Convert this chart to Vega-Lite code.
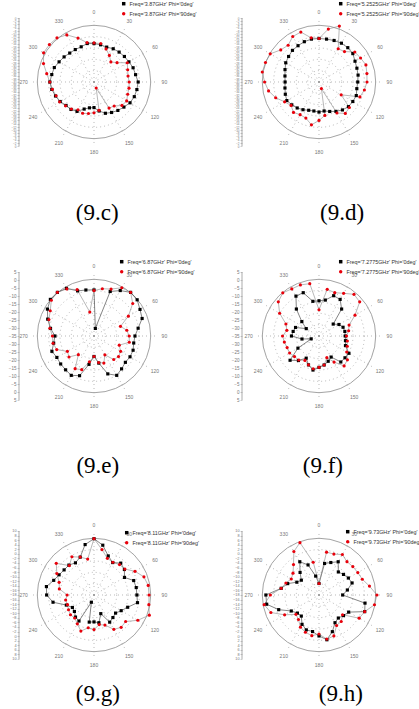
{
"$schema": "https://vega.github.io/schema/vega-lite/v6.json",
"padding": {"left": 8, "top": 0, "right": 0, "bottom": 0},
"background": "white",
"spacing": 0,
"resolve": {"scale": {"color": "independent", "shape": "independent"}, "legend": {"color": "independent", "shape": "independent"}},
"config": {
  "view": {"stroke": null},
  "axisY": {"domain": false, "grid": false, "labelColor": "#777", "tickColor": "#999", "tickWidth": 0.5, "tickSize": 2, "labelPadding": 1, "labelFont": "Liberation Sans", "labelOverlap": false, "labelBound": false, "labelFlush": false},
  "legend": {"orient": "none", "labelFontSize": 5.4, "labelFont": "Liberation Sans", "labelColor": "#333", "symbolSize": 12, "rowPadding": 3, "labelLimit": 300, "labelOffset": 3, "padding": 0, "symbolStrokeWidth": 0}
},
"datasets": {
  "rings": [{"r": 0.2}, {"r": 0.4}, {"r": 0.6}, {"r": 0.8}],
  "angles": [{"a":0,"t":"0"},{"a":30,"t":"30"},{"a":60,"t":"60"},{"a":90,"t":"90"},{"a":120,"t":"120"},{"a":150,"t":"150"},{"a":180,"t":"180"},{"a":210,"t":"210"},{"a":240,"t":"240"},{"a":270,"t":"270"},{"a":300,"t":"300"},{"a":330,"t":"330"}],
  "c": [
{"s":"0deg","a":0,"r":0.60},{"s":"0deg","a":10,"r":0.59},{"s":"0deg","a":20,"r":0.58},{"s":"0deg","a":30,"r":0.60},{"s":"0deg","a":40,"r":0.61},{"s":"0deg","a":50,"r":0.62},{"s":"0deg","a":60,"r":0.63},{"s":"0deg","a":70,"r":0.65},{"s":"0deg","a":80,"r":0.66},{"s":"0deg","a":90,"r":0.69},{"s":"0deg","a":100,"r":0.68},{"s":"0deg","a":110,"r":0.67},{"s":"0deg","a":120,"r":0.65},{"s":"0deg","a":130,"r":0.61},{"s":"0deg","a":140,"r":0.58},{"s":"0deg","a":150,"r":0.55},{"s":"0deg","a":160,"r":0.52},{"s":"0deg","a":170,"r":0.46},{"s":"0deg","a":180,"r":0.40},{"s":"0deg","a":190,"r":0.41},{"s":"0deg","a":200,"r":0.45},{"s":"0deg","a":210,"r":0.53},{"s":"0deg","a":220,"r":0.56},{"s":"0deg","a":230,"r":0.57},{"s":"0deg","a":240,"r":0.61},{"s":"0deg","a":250,"r":0.64},{"s":"0deg","a":260,"r":0.67},{"s":"0deg","a":270,"r":0.69},{"s":"0deg","a":280,"r":0.67},{"s":"0deg","a":290,"r":0.66},{"s":"0deg","a":300,"r":0.63},{"s":"0deg","a":310,"r":0.61},{"s":"0deg","a":320,"r":0.59},{"s":"0deg","a":330,"r":0.585},{"s":"0deg","a":340,"r":0.585},{"s":"0deg","a":350,"r":0.61},
{"s":"90deg","a":0,"r":0.61},{"s":"90deg","a":10,"r":0.61},{"s":"90deg","a":20,"r":0.55},{"s":"90deg","a":30,"r":0.48},{"s":"90deg","a":40,"r":0.41},{"s":"90deg","a":50,"r":0.47},{"s":"90deg","a":60,"r":0.60},{"s":"90deg","a":70,"r":0.56},{"s":"90deg","a":80,"r":0.54},{"s":"90deg","a":90,"r":0.55},{"s":"90deg","a":100,"r":0.555},{"s":"90deg","a":110,"r":0.56},{"s":"90deg","a":120,"r":0.59},{"s":"90deg","a":130,"r":0.57},{"s":"90deg","a":140,"r":0.49},{"s":"90deg","a":150,"r":0.47},{"s":"90deg","a":160,"r":0.10},{"s":"90deg","a":170,"r":0.45},{"s":"90deg","a":180,"r":0.48},{"s":"90deg","a":190,"r":0.50},{"s":"90deg","a":200,"r":0.52},{"s":"90deg","a":210,"r":0.50},{"s":"90deg","a":220,"r":0.55},{"s":"90deg","a":230,"r":0.58},{"s":"90deg","a":240,"r":0.62},{"s":"90deg","a":250,"r":0.63},{"s":"90deg","a":260,"r":0.66},{"s":"90deg","a":270,"r":0.69},{"s":"90deg","a":280,"r":0.75},{"s":"90deg","a":290,"r":0.84},{"s":"90deg","a":300,"r":0.91},{"s":"90deg","a":310,"r":0.91},{"s":"90deg","a":320,"r":0.90},{"s":"90deg","a":330,"r":0.85},{"s":"90deg","a":340,"r":0.73},{"s":"90deg","a":350,"r":0.625}
  ],
  "d": [
{"s":"0deg","a":0,"r":0.68},{"s":"0deg","a":10,"r":0.68},{"s":"0deg","a":20,"r":0.69},{"s":"0deg","a":30,"r":0.70},{"s":"0deg","a":40,"r":0.70},{"s":"0deg","a":50,"r":0.69},{"s":"0deg","a":60,"r":0.65},{"s":"0deg","a":70,"r":0.63},{"s":"0deg","a":80,"r":0.62},{"s":"0deg","a":90,"r":0.605},{"s":"0deg","a":100,"r":0.60},{"s":"0deg","a":110,"r":0.62},{"s":"0deg","a":120,"r":0.61},{"s":"0deg","a":130,"r":0.60},{"s":"0deg","a":140,"r":0.57},{"s":"0deg","a":150,"r":0.53},{"s":"0deg","a":160,"r":0.49},{"s":"0deg","a":170,"r":0.46},{"s":"0deg","a":180,"r":0.47},{"s":"0deg","a":190,"r":0.46},{"s":"0deg","a":200,"r":0.47},{"s":"0deg","a":210,"r":0.50},{"s":"0deg","a":220,"r":0.53},{"s":"0deg","a":230,"r":0.555},{"s":"0deg","a":240,"r":0.58},{"s":"0deg","a":250,"r":0.56},{"s":"0deg","a":260,"r":0.54},{"s":"0deg","a":270,"r":0.53},{"s":"0deg","a":280,"r":0.54},{"s":"0deg","a":290,"r":0.565},{"s":"0deg","a":300,"r":0.60},{"s":"0deg","a":310,"r":0.62},{"s":"0deg","a":320,"r":0.645},{"s":"0deg","a":330,"r":0.655},{"s":"0deg","a":340,"r":0.67},{"s":"0deg","a":350,"r":0.68},
{"s":"90deg","a":0,"r":0.68},{"s":"90deg","a":10,"r":0.84},{"s":"90deg","a":20,"r":0.93},{"s":"90deg","a":30,"r":0.60},{"s":"90deg","a":40,"r":0.62},{"s":"90deg","a":50,"r":0.73},{"s":"90deg","a":60,"r":0.75},{"s":"90deg","a":70,"r":0.78},{"s":"90deg","a":80,"r":0.76},{"s":"90deg","a":90,"r":0.75},{"s":"90deg","a":100,"r":0.72},{"s":"90deg","a":110,"r":0.68},{"s":"90deg","a":120,"r":0.40},{"s":"90deg","a":130,"r":0.62},{"s":"90deg","a":140,"r":0.64},{"s":"90deg","a":150,"r":0.56},{"s":"90deg","a":160,"r":0.11},{"s":"90deg","a":170,"r":0.53},{"s":"90deg","a":180,"r":0.60},{"s":"90deg","a":190,"r":0.68},{"s":"90deg","a":200,"r":0.60},{"s":"90deg","a":210,"r":0.59},{"s":"90deg","a":220,"r":0.62},{"s":"90deg","a":230,"r":0.57},{"s":"90deg","a":240,"r":0.62},{"s":"90deg","a":250,"r":0.72},{"s":"90deg","a":260,"r":0.80},{"s":"90deg","a":270,"r":0.85},{"s":"90deg","a":280,"r":0.90},{"s":"90deg","a":290,"r":0.89},{"s":"90deg","a":300,"r":0.88},{"s":"90deg","a":310,"r":0.78},{"s":"90deg","a":320,"r":0.75},{"s":"90deg","a":330,"r":0.82},{"s":"90deg","a":340,"r":0.83},{"s":"90deg","a":350,"r":0.70}
  ],
  "e": [
{"s":"0deg","a":0,"r":0.72},{"s":"0deg","a":10,"r":0.12},{"s":"0deg","a":20,"r":0.74},{"s":"0deg","a":30,"r":0.82},{"s":"0deg","a":40,"r":0.89},{"s":"0deg","a":50,"r":0.88},{"s":"0deg","a":60,"r":0.83},{"s":"0deg","a":70,"r":0.80},{"s":"0deg","a":80,"r":0.70},{"s":"0deg","a":90,"r":0.64},{"s":"0deg","a":100,"r":0.63},{"s":"0deg","a":110,"r":0.65},{"s":"0deg","a":120,"r":0.65},{"s":"0deg","a":130,"r":0.64},{"s":"0deg","a":140,"r":0.67},{"s":"0deg","a":150,"r":0.71},{"s":"0deg","a":160,"r":0.63},{"s":"0deg","a":170,"r":0.43},{"s":"0deg","a":180,"r":0.32},{"s":"0deg","a":190,"r":0.45},{"s":"0deg","a":200,"r":0.66},{"s":"0deg","a":210,"r":0.71},{"s":"0deg","a":220,"r":0.69},{"s":"0deg","a":230,"r":0.68},{"s":"0deg","a":240,"r":0.67},{"s":"0deg","a":250,"r":0.70},{"s":"0deg","a":260,"r":0.64},{"s":"0deg","a":270,"r":0.61},{"s":"0deg","a":280,"r":0.69},{"s":"0deg","a":290,"r":0.77},{"s":"0deg","a":300,"r":0.84},{"s":"0deg","a":310,"r":0.89},{"s":"0deg","a":320,"r":0.89},{"s":"0deg","a":330,"r":0.86},{"s":"0deg","a":340,"r":0.75},{"s":"0deg","a":350,"r":0.73},
{"s":"90deg","a":0,"r":0.71},{"s":"90deg","a":10,"r":0.75},{"s":"90deg","a":20,"r":0.78},{"s":"90deg","a":30,"r":0.87},{"s":"90deg","a":40,"r":0.89},{"s":"90deg","a":50,"r":0.79},{"s":"90deg","a":60,"r":0.62},{"s":"90deg","a":70,"r":0.44},{"s":"90deg","a":80,"r":0.52},{"s":"90deg","a":90,"r":0.55},{"s":"90deg","a":100,"r":0.56},{"s":"90deg","a":110,"r":0.42},{"s":"90deg","a":120,"r":0.48},{"s":"90deg","a":130,"r":0.50},{"s":"90deg","a":140,"r":0.48},{"s":"90deg","a":150,"r":0.34},{"s":"90deg","a":160,"r":0.45},{"s":"90deg","a":170,"r":0.42},{"s":"90deg","a":180,"r":0.32},{"s":"90deg","a":190,"r":0.41},{"s":"90deg","a":200,"r":0.56},{"s":"90deg","a":210,"r":0.59},{"s":"90deg","a":220,"r":0.38},{"s":"90deg","a":230,"r":0.51},{"s":"90deg","a":240,"r":0.48},{"s":"90deg","a":250,"r":0.62},{"s":"90deg","a":260,"r":0.65},{"s":"90deg","a":270,"r":0.65},{"s":"90deg","a":280,"r":0.70},{"s":"90deg","a":290,"r":0.75},{"s":"90deg","a":300,"r":0.79},{"s":"90deg","a":310,"r":0.87},{"s":"90deg","a":320,"r":0.89},{"s":"90deg","a":330,"r":0.85},{"s":"90deg","a":340,"r":0.77},{"s":"90deg","a":350,"r":0.38}
  ],
  "f": [
{"s":"0deg","a":0,"r":0.55},{"s":"0deg","a":10,"r":0.57},{"s":"0deg","a":20,"r":0.67},{"s":"0deg","a":30,"r":0.66},{"s":"0deg","a":40,"r":0.55},{"s":"0deg","a":50,"r":0.29},{"s":"0deg","a":60,"r":0.36},{"s":"0deg","a":70,"r":0.40},{"s":"0deg","a":80,"r":0.41},{"s":"0deg","a":90,"r":0.41},{"s":"0deg","a":100,"r":0.42},{"s":"0deg","a":110,"r":0.44},{"s":"0deg","a":120,"r":0.54},{"s":"0deg","a":130,"r":0.53},{"s":"0deg","a":140,"r":0.53},{"s":"0deg","a":150,"r":0.38},{"s":"0deg","a":160,"r":0.42},{"s":"0deg","a":170,"r":0.46},{"s":"0deg","a":180,"r":0.49},{"s":"0deg","a":190,"r":0.54},{"s":"0deg","a":200,"r":0.48},{"s":"0deg","a":210,"r":0.40},{"s":"0deg","a":220,"r":0.50},{"s":"0deg","a":230,"r":0.59},{"s":"0deg","a":240,"r":0.38},{"s":"0deg","a":250,"r":0.13},{"s":"0deg","a":260,"r":0.27},{"s":"0deg","a":270,"r":0.43},{"s":"0deg","a":280,"r":0.41},{"s":"0deg","a":290,"r":0.39},{"s":"0deg","a":300,"r":0.23},{"s":"0deg","a":310,"r":0.35},{"s":"0deg","a":320,"r":0.55},{"s":"0deg","a":330,"r":0.72},{"s":"0deg","a":340,"r":0.72},{"s":"0deg","a":350,"r":0.55},
{"s":"90deg","a":0,"r":0.41},{"s":"90deg","a":10,"r":0.74},{"s":"90deg","a":20,"r":0.72},{"s":"90deg","a":30,"r":0.77},{"s":"90deg","a":40,"r":0.85},{"s":"90deg","a":50,"r":0.83},{"s":"90deg","a":60,"r":0.65},{"s":"90deg","a":70,"r":0.50},{"s":"90deg","a":80,"r":0.47},{"s":"90deg","a":90,"r":0.43},{"s":"90deg","a":100,"r":0.45},{"s":"90deg","a":110,"r":0.47},{"s":"90deg","a":120,"r":0.50},{"s":"90deg","a":130,"r":0.58},{"s":"90deg","a":140,"r":0.61},{"s":"90deg","a":150,"r":0.47},{"s":"90deg","a":160,"r":0.36},{"s":"90deg","a":170,"r":0.46},{"s":"90deg","a":180,"r":0.49},{"s":"90deg","a":190,"r":0.52},{"s":"90deg","a":200,"r":0.48},{"s":"90deg","a":210,"r":0.44},{"s":"90deg","a":220,"r":0.49},{"s":"90deg","a":230,"r":0.50},{"s":"90deg","a":240,"r":0.53},{"s":"90deg","a":250,"r":0.53},{"s":"90deg","a":260,"r":0.55},{"s":"90deg","a":270,"r":0.57},{"s":"90deg","a":280,"r":0.51},{"s":"90deg","a":290,"r":0.55},{"s":"90deg","a":300,"r":0.71},{"s":"90deg","a":310,"r":0.83},{"s":"90deg","a":320,"r":0.88},{"s":"90deg","a":330,"r":0.85},{"s":"90deg","a":340,"r":0.85},{"s":"90deg","a":350,"r":0.83}
  ],
  "g": [
{"s":"0deg","a":0,"r":0.88},{"s":"0deg","a":10,"r":0.79},{"s":"0deg","a":20,"r":0.65},{"s":"0deg","a":30,"r":0.585},{"s":"0deg","a":40,"r":0.65},{"s":"0deg","a":50,"r":0.62},{"s":"0deg","a":60,"r":0.55},{"s":"0deg","a":70,"r":0.66},{"s":"0deg","a":80,"r":0.67},{"s":"0deg","a":90,"r":0.67},{"s":"0deg","a":100,"r":0.69},{"s":"0deg","a":110,"r":0.56},{"s":"0deg","a":120,"r":0.49},{"s":"0deg","a":130,"r":0.44},{"s":"0deg","a":140,"r":0.46},{"s":"0deg","a":150,"r":0.49},{"s":"0deg","a":160,"r":0.31},{"s":"0deg","a":170,"r":0.44},{"s":"0deg","a":180,"r":0.42},{"s":"0deg","a":190,"r":0.43},{"s":"0deg","a":200,"r":0.12},{"s":"0deg","a":210,"r":0.47},{"s":"0deg","a":220,"r":0.45},{"s":"0deg","a":230,"r":0.40},{"s":"0deg","a":240,"r":0.39},{"s":"0deg","a":250,"r":0.46},{"s":"0deg","a":260,"r":0.65},{"s":"0deg","a":270,"r":0.74},{"s":"0deg","a":280,"r":0.755},{"s":"0deg","a":290,"r":0.67},{"s":"0deg","a":300,"r":0.63},{"s":"0deg","a":310,"r":0.61},{"s":"0deg","a":320,"r":0.61},{"s":"0deg","a":330,"r":0.58},{"s":"0deg","a":340,"r":0.63},{"s":"0deg","a":350,"r":0.80},
{"s":"90deg","a":0,"r":0.88},{"s":"90deg","a":10,"r":0.72},{"s":"90deg","a":20,"r":0.61},{"s":"90deg","a":30,"r":0.59},{"s":"90deg","a":40,"r":0.62},{"s":"90deg","a":50,"r":0.63},{"s":"90deg","a":60,"r":0.74},{"s":"90deg","a":70,"r":0.83},{"s":"90deg","a":80,"r":0.86},{"s":"90deg","a":90,"r":0.86},{"s":"90deg","a":100,"r":0.87},{"s":"90deg","a":110,"r":0.92},{"s":"90deg","a":120,"r":0.79},{"s":"90deg","a":130,"r":0.645},{"s":"90deg","a":140,"r":0.66},{"s":"90deg","a":150,"r":0.62},{"s":"90deg","a":160,"r":0.50},{"s":"90deg","a":170,"r":0.47},{"s":"90deg","a":180,"r":0.54},{"s":"90deg","a":190,"r":0.52},{"s":"90deg","a":200,"r":0.60},{"s":"90deg","a":210,"r":0.52},{"s":"90deg","a":220,"r":0.47},{"s":"90deg","a":230,"r":0.48},{"s":"90deg","a":240,"r":0.46},{"s":"90deg","a":250,"r":0.44},{"s":"90deg","a":260,"r":0.45},{"s":"90deg","a":270,"r":0.42},{"s":"90deg","a":280,"r":0.55},{"s":"90deg","a":290,"r":0.58},{"s":"90deg","a":300,"r":0.67},{"s":"90deg","a":310,"r":0.77},{"s":"90deg","a":320,"r":0.60},{"s":"90deg","a":330,"r":0.69},{"s":"90deg","a":340,"r":0.63},{"s":"90deg","a":350,"r":0.57}
  ],
  "h": [
{"s":"0deg","a":0,"r":0.18},{"s":"0deg","a":10,"r":0.50},{"s":"0deg","a":20,"r":0.54},{"s":"0deg","a":30,"r":0.60},{"s":"0deg","a":40,"r":0.47},{"s":"0deg","a":50,"r":0.50},{"s":"0deg","a":60,"r":0.53},{"s":"0deg","a":70,"r":0.55},{"s":"0deg","a":80,"r":0.45},{"s":"0deg","a":90,"r":0.37},{"s":"0deg","a":100,"r":0.73},{"s":"0deg","a":110,"r":0.76},{"s":"0deg","a":120,"r":0.535},{"s":"0deg","a":130,"r":0.50},{"s":"0deg","a":140,"r":0.47},{"s":"0deg","a":150,"r":0.50},{"s":"0deg","a":160,"r":0.61},{"s":"0deg","a":170,"r":0.71},{"s":"0deg","a":180,"r":0.64},{"s":"0deg","a":190,"r":0.58},{"s":"0deg","a":200,"r":0.58},{"s":"0deg","a":210,"r":0.53},{"s":"0deg","a":220,"r":0.43},{"s":"0deg","a":230,"r":0.44},{"s":"0deg","a":240,"r":0.50},{"s":"0deg","a":250,"r":0.67},{"s":"0deg","a":260,"r":0.83},{"s":"0deg","a":270,"r":0.83},{"s":"0deg","a":280,"r":0.60},{"s":"0deg","a":290,"r":0.52},{"s":"0deg","a":300,"r":0.40},{"s":"0deg","a":310,"r":0.36},{"s":"0deg","a":320,"r":0.46},{"s":"0deg","a":330,"r":0.60},{"s":"0deg","a":340,"r":0.50},{"s":"0deg","a":350,"r":0.30},
{"s":"90deg","a":0,"r":0.18},{"s":"90deg","a":10,"r":0.68},{"s":"90deg","a":20,"r":0.68},{"s":"90deg","a":30,"r":0.73},{"s":"90deg","a":40,"r":0.68},{"s":"90deg","a":50,"r":0.69},{"s":"90deg","a":60,"r":0.70},{"s":"90deg","a":70,"r":0.72},{"s":"90deg","a":80,"r":0.80},{"s":"90deg","a":90,"r":0.905},{"s":"90deg","a":100,"r":0.88},{"s":"90deg","a":110,"r":0.76},{"s":"90deg","a":120,"r":0.725},{"s":"90deg","a":130,"r":0.48},{"s":"90deg","a":140,"r":0.54},{"s":"90deg","a":150,"r":0.55},{"s":"90deg","a":160,"r":0.68},{"s":"90deg","a":170,"r":0.70},{"s":"90deg","a":180,"r":0.61},{"s":"90deg","a":190,"r":0.645},{"s":"90deg","a":200,"r":0.62},{"s":"90deg","a":210,"r":0.58},{"s":"90deg","a":220,"r":0.50},{"s":"90deg","a":230,"r":0.47},{"s":"90deg","a":240,"r":0.62},{"s":"90deg","a":250,"r":0.80},{"s":"90deg","a":260,"r":0.87},{"s":"90deg","a":270,"r":0.76},{"s":"90deg","a":280,"r":0.60},{"s":"90deg","a":290,"r":0.55},{"s":"90deg","a":300,"r":0.50},{"s":"90deg","a":310,"r":0.53},{"s":"90deg","a":320,"r":0.62},{"s":"90deg","a":330,"r":0.785},{"s":"90deg","a":340,"r":0.87},{"s":"90deg","a":350,"r":0.52}
  ]
},
"vconcat": [
{"hconcat": [
 {"width": 187, "height": 236, "data": {"name": "c"},
  "transform": [{"calculate": "datum.r*sin(datum.a*PI/180)", "as": "x"}, {"calculate": "datum.r*cos(datum.a*PI/180)", "as": "y"}],
  "encoding": {"x": {"field": "x", "type": "quantitative", "scale": {"domain": [-1.172, 1.75], "nice": false, "zero": false}, "axis": null},
    "y": {"field": "y", "type": "quantitative", "scale": {"domain": [-2.406, 1.281], "nice": false, "zero": false},
      "axis": {"title": null, "values": [-1,-0.95,-0.9,-0.85,-0.8,-0.75,-0.7,-0.65,-0.6,-0.55,-0.5,-0.45,-0.4,-0.35,-0.3,-0.25,-0.2,-0.15,-0.1,-0.05,0,0.05,0.1,0.15,0.2,0.25,0.3,0.35,0.4,0.45,0.5,0.55,0.6,0.65,0.7,0.75,0.8,0.85,0.9,0.95,1], "labelExpr": "format(-40+40*abs(datum.value),'d')", "labelFontSize": 3}}},
  "layer": [
   {"data": {"name": "rings"}, "transform": [{"calculate": "0", "as": "x"}, {"calculate": "0", "as": "y"}], "mark": {"type": "point", "shape": "circle", "filled": false, "stroke": "#999", "strokeWidth": 0.7, "strokeDash": [1, 3], "opacity": 1}, "encoding": {"size": {"field": "r", "type": "quantitative", "scale": {"type": "pow", "exponent": 2, "domain": [0, 1], "range": [0, 12868]}, "legend": null}}},
   {"data": {"values": [{"r": 1}]}, "transform": [{"calculate": "0", "as": "x"}, {"calculate": "0", "as": "y"}], "mark": {"type": "point", "shape": "circle", "filled": false, "stroke": "#999", "strokeWidth": 0.9, "size": 12868, "opacity": 1}},
   {"data": {"name": "angles"}, "transform": [{"calculate": "0", "as": "x"}, {"calculate": "0", "as": "y"}, {"calculate": "sin(datum.a*PI/180)", "as": "x2"}, {"calculate": "cos(datum.a*PI/180)", "as": "y2"}], "mark": {"type": "rule", "stroke": "#999", "strokeWidth": 0.7, "strokeDash": [1, 3]}, "encoding": {"x2": {"field": "x2"}, "y2": {"field": "y2"}}},
   {"data": {"name": "angles"}, "transform": [{"calculate": "1.1*sin(datum.a*PI/180)", "as": "x"}, {"calculate": "1.1*cos(datum.a*PI/180)", "as": "y"}], "mark": {"type": "text", "fontSize": 5, "color": "#777", "font": "Liberation Sans"}, "encoding": {"text": {"field": "t"}}},
   {"data": {"values": [{"lo": -1, "hi": 1}]}, "transform": [{"calculate": "-1.172", "as": "x"}, {"calculate": "datum.lo", "as": "y"}], "mark": {"type": "rule", "stroke": "#888", "strokeWidth": 0.7}, "encoding": {"y2": {"field": "hi"}}},
   {"mark": {"type": "line", "strokeWidth": 0.6, "interpolate": "linear-closed"}, "encoding": {"stroke": {"field": "s", "type": "nominal", "scale": {"domain": ["0deg", "90deg"], "range": ["#333", "#888"]}, "legend": null}, "order": {"field": "a", "type": "quantitative"}}},
   {"mark": {"type": "point", "filled": true, "size": 10, "opacity": 1}, "encoding": {
     "color": {"field": "s", "type": "nominal", "scale": {"domain": ["0deg", "90deg"], "range": ["#000000", "#e8000b"]}, "legend": {"title": null, "legendX": 102, "legendY": 1, "labelExpr": "\"Freq='3.87GHz' Phi='\" + datum.label + \"'\""}},
     "shape": {"field": "s", "type": "nominal", "scale": {"domain": ["0deg", "90deg"], "range": ["square", "circle"]}, "legend": {"title": null, "legendX": 102, "legendY": 1, "labelExpr": "\"Freq='3.87GHz' Phi='\" + datum.label + \"'\""}}}},
   {"data": {"values": [{"t": "(9.c)"}]}, "transform": [{"calculate": "0.05", "as": "x"}, {"calculate": "-2.05", "as": "y"}], "mark": {"type": "text", "font": "Liberation Serif", "fontSize": 23, "color": "#000"}, "encoding": {"text": {"field": "t"}}}
  ]},
 {"width": 178, "height": 236, "data": {"name": "d"},
  "transform": [{"calculate": "datum.r*sin(datum.a*PI/180)", "as": "x"}, {"calculate": "datum.r*cos(datum.a*PI/180)", "as": "y"}],
  "encoding": {"x": {"field": "x", "type": "quantitative", "scale": {"domain": [-1.203, 1.578], "nice": false, "zero": false}, "axis": null},
    "y": {"field": "y", "type": "quantitative", "scale": {"domain": [-2.406, 1.281], "nice": false, "zero": false},
      "axis": {"title": null, "values": [-1,-0.95,-0.9,-0.85,-0.8,-0.75,-0.7,-0.65,-0.6,-0.55,-0.5,-0.45,-0.4,-0.35,-0.3,-0.25,-0.2,-0.15,-0.1,-0.05,0,0.05,0.1,0.15,0.2,0.25,0.3,0.35,0.4,0.45,0.5,0.55,0.6,0.65,0.7,0.75,0.8,0.85,0.9,0.95,1], "labelExpr": "format(-40+40*abs(datum.value),'d')", "labelFontSize": 3}}},
  "layer": [
   {"data": {"name": "rings"}, "transform": [{"calculate": "0", "as": "x"}, {"calculate": "0", "as": "y"}], "mark": {"type": "point", "shape": "circle", "filled": false, "stroke": "#999", "strokeWidth": 0.7, "strokeDash": [1, 3], "opacity": 1}, "encoding": {"size": {"field": "r", "type": "quantitative", "scale": {"type": "pow", "exponent": 2, "domain": [0, 1], "range": [0, 12868]}, "legend": null}}},
   {"data": {"values": [{"r": 1}]}, "transform": [{"calculate": "0", "as": "x"}, {"calculate": "0", "as": "y"}], "mark": {"type": "point", "shape": "circle", "filled": false, "stroke": "#999", "strokeWidth": 0.9, "size": 12868, "opacity": 1}},
   {"data": {"name": "angles"}, "transform": [{"calculate": "0", "as": "x"}, {"calculate": "0", "as": "y"}, {"calculate": "sin(datum.a*PI/180)", "as": "x2"}, {"calculate": "cos(datum.a*PI/180)", "as": "y2"}], "mark": {"type": "rule", "stroke": "#999", "strokeWidth": 0.7, "strokeDash": [1, 3]}, "encoding": {"x2": {"field": "x2"}, "y2": {"field": "y2"}}},
   {"data": {"name": "angles"}, "transform": [{"calculate": "1.1*sin(datum.a*PI/180)", "as": "x"}, {"calculate": "1.1*cos(datum.a*PI/180)", "as": "y"}], "mark": {"type": "text", "fontSize": 5, "color": "#777", "font": "Liberation Sans"}, "encoding": {"text": {"field": "t"}}},
   {"data": {"values": [{"lo": -1, "hi": 1}]}, "transform": [{"calculate": "-1.203", "as": "x"}, {"calculate": "datum.lo", "as": "y"}], "mark": {"type": "rule", "stroke": "#888", "strokeWidth": 0.7}, "encoding": {"y2": {"field": "hi"}}},
   {"mark": {"type": "line", "strokeWidth": 0.6, "interpolate": "linear-closed"}, "encoding": {"stroke": {"field": "s", "type": "nominal", "scale": {"domain": ["0deg", "90deg"], "range": ["#333", "#888"]}, "legend": null}, "order": {"field": "a", "type": "quantitative"}}},
   {"mark": {"type": "point", "filled": true, "size": 10, "opacity": 1}, "encoding": {
     "color": {"field": "s", "type": "nominal", "scale": {"domain": ["0deg", "90deg"], "range": ["#000000", "#e8000b"]}, "legend": {"title": null, "legendX": 96, "legendY": 1, "labelExpr": "\"Freq='5.2525GHz' Phi='\" + datum.label + \"'\""}},
     "shape": {"field": "s", "type": "nominal", "scale": {"domain": ["0deg", "90deg"], "range": ["square", "circle"]}, "legend": {"title": null, "legendX": 96, "legendY": 1, "labelExpr": "\"Freq='5.2525GHz' Phi='\" + datum.label + \"'\""}}}},
   {"data": {"values": [{"t": "(9.d)"}]}, "transform": [{"calculate": "0.36", "as": "x"}, {"calculate": "-2.05", "as": "y"}], "mark": {"type": "text", "font": "Liberation Serif", "fontSize": 23, "color": "#000"}, "encoding": {"text": {"field": "t"}}}
  ]}
 ], "spacing": 36, "bounds": "flush", "resolve": {"scale": {"color": "independent", "shape": "independent"}, "legend": {"color": "independent", "shape": "independent"}}},
{"hconcat": [
 {"width": 187, "height": 236, "data": {"name": "e"},
  "transform": [{"calculate": "datum.r*sin(datum.a*PI/180)", "as": "x"}, {"calculate": "datum.r*cos(datum.a*PI/180)", "as": "y"}],
  "encoding": {"x": {"field": "x", "type": "quantitative", "scale": {"domain": [-1.172, 1.75], "nice": false, "zero": false}, "axis": null},
    "y": {"field": "y", "type": "quantitative", "scale": {"domain": [-2.125, 1.5625], "nice": false, "zero": false},
      "axis": {"title": null, "values": [-1,-0.875,-0.75,-0.625,-0.5,-0.375,-0.25,-0.125,0,0.125,0.25,0.375,0.5,0.625,0.75,0.875,1], "labelExpr": "format(-35+40*abs(datum.value),'d')", "labelFontSize": 4.5}}},
  "layer": [
   {"data": {"name": "rings"}, "transform": [{"calculate": "0", "as": "x"}, {"calculate": "0", "as": "y"}], "mark": {"type": "point", "shape": "circle", "filled": false, "stroke": "#999", "strokeWidth": 0.7, "strokeDash": [1, 3], "opacity": 1}, "encoding": {"size": {"field": "r", "type": "quantitative", "scale": {"type": "pow", "exponent": 2, "domain": [0, 1], "range": [0, 12868]}, "legend": null}}},
   {"data": {"values": [{"r": 1}]}, "transform": [{"calculate": "0", "as": "x"}, {"calculate": "0", "as": "y"}], "mark": {"type": "point", "shape": "circle", "filled": false, "stroke": "#999", "strokeWidth": 0.9, "size": 12868, "opacity": 1}},
   {"data": {"name": "angles"}, "transform": [{"calculate": "0", "as": "x"}, {"calculate": "0", "as": "y"}, {"calculate": "sin(datum.a*PI/180)", "as": "x2"}, {"calculate": "cos(datum.a*PI/180)", "as": "y2"}], "mark": {"type": "rule", "stroke": "#999", "strokeWidth": 0.7, "strokeDash": [1, 3]}, "encoding": {"x2": {"field": "x2"}, "y2": {"field": "y2"}}},
   {"data": {"name": "angles"}, "transform": [{"calculate": "1.1*sin(datum.a*PI/180)", "as": "x"}, {"calculate": "1.1*cos(datum.a*PI/180)", "as": "y"}], "mark": {"type": "text", "fontSize": 5, "color": "#777", "font": "Liberation Sans"}, "encoding": {"text": {"field": "t"}}},
   {"data": {"values": [{"lo": -1, "hi": 1}]}, "transform": [{"calculate": "-1.172", "as": "x"}, {"calculate": "datum.lo", "as": "y"}], "mark": {"type": "rule", "stroke": "#888", "strokeWidth": 0.7}, "encoding": {"y2": {"field": "hi"}}},
   {"mark": {"type": "line", "strokeWidth": 0.6, "interpolate": "linear-closed"}, "encoding": {"stroke": {"field": "s", "type": "nominal", "scale": {"domain": ["0deg", "90deg"], "range": ["#333", "#888"]}, "legend": null}, "order": {"field": "a", "type": "quantitative"}}},
   {"mark": {"type": "point", "filled": true, "size": 10, "opacity": 1}, "encoding": {
     "color": {"field": "s", "type": "nominal", "scale": {"domain": ["0deg", "90deg"], "range": ["#000000", "#e8000b"]}, "legend": {"title": null, "legendX": 100, "legendY": 23, "labelExpr": "\"Freq='6.87GHz' Phi='\" + datum.label + \"'\""}},
     "shape": {"field": "s", "type": "nominal", "scale": {"domain": ["0deg", "90deg"], "range": ["square", "circle"]}, "legend": {"title": null, "legendX": 100, "legendY": 23, "labelExpr": "\"Freq='6.87GHz' Phi='\" + datum.label + \"'\""}}}},
   {"data": {"values": [{"t": "(9.e)"}]}, "transform": [{"calculate": "0.06", "as": "x"}, {"calculate": "-2.03", "as": "y"}], "mark": {"type": "text", "font": "Liberation Serif", "fontSize": 23, "color": "#000"}, "encoding": {"text": {"field": "t"}}}
  ]},
 {"width": 178, "height": 236, "data": {"name": "f"},
  "transform": [{"calculate": "datum.r*sin(datum.a*PI/180)", "as": "x"}, {"calculate": "datum.r*cos(datum.a*PI/180)", "as": "y"}],
  "encoding": {"x": {"field": "x", "type": "quantitative", "scale": {"domain": [-1.203, 1.578], "nice": false, "zero": false}, "axis": null},
    "y": {"field": "y", "type": "quantitative", "scale": {"domain": [-2.125, 1.5625], "nice": false, "zero": false},
      "axis": {"title": null, "values": [-1,-0.875,-0.75,-0.625,-0.5,-0.375,-0.25,-0.125,0,0.125,0.25,0.375,0.5,0.625,0.75,0.875,1], "labelExpr": "format(-35+40*abs(datum.value),'d')", "labelFontSize": 4.5}}},
  "layer": [
   {"data": {"name": "rings"}, "transform": [{"calculate": "0", "as": "x"}, {"calculate": "0", "as": "y"}], "mark": {"type": "point", "shape": "circle", "filled": false, "stroke": "#999", "strokeWidth": 0.7, "strokeDash": [1, 3], "opacity": 1}, "encoding": {"size": {"field": "r", "type": "quantitative", "scale": {"type": "pow", "exponent": 2, "domain": [0, 1], "range": [0, 12868]}, "legend": null}}},
   {"data": {"values": [{"r": 1}]}, "transform": [{"calculate": "0", "as": "x"}, {"calculate": "0", "as": "y"}], "mark": {"type": "point", "shape": "circle", "filled": false, "stroke": "#999", "strokeWidth": 0.9, "size": 12868, "opacity": 1}},
   {"data": {"name": "angles"}, "transform": [{"calculate": "0", "as": "x"}, {"calculate": "0", "as": "y"}, {"calculate": "sin(datum.a*PI/180)", "as": "x2"}, {"calculate": "cos(datum.a*PI/180)", "as": "y2"}], "mark": {"type": "rule", "stroke": "#999", "strokeWidth": 0.7, "strokeDash": [1, 3]}, "encoding": {"x2": {"field": "x2"}, "y2": {"field": "y2"}}},
   {"data": {"name": "angles"}, "transform": [{"calculate": "1.1*sin(datum.a*PI/180)", "as": "x"}, {"calculate": "1.1*cos(datum.a*PI/180)", "as": "y"}], "mark": {"type": "text", "fontSize": 5, "color": "#777", "font": "Liberation Sans"}, "encoding": {"text": {"field": "t"}}},
   {"data": {"values": [{"lo": -1, "hi": 1}]}, "transform": [{"calculate": "-1.203", "as": "x"}, {"calculate": "datum.lo", "as": "y"}], "mark": {"type": "rule", "stroke": "#888", "strokeWidth": 0.7}, "encoding": {"y2": {"field": "hi"}}},
   {"mark": {"type": "line", "strokeWidth": 0.6, "interpolate": "linear-closed"}, "encoding": {"stroke": {"field": "s", "type": "nominal", "scale": {"domain": ["0deg", "90deg"], "range": ["#333", "#888"]}, "legend": null}, "order": {"field": "a", "type": "quantitative"}}},
   {"mark": {"type": "point", "filled": true, "size": 10, "opacity": 1}, "encoding": {
     "color": {"field": "s", "type": "nominal", "scale": {"domain": ["0deg", "90deg"], "range": ["#000000", "#e8000b"]}, "legend": {"title": null, "legendX": 96, "legendY": 23, "labelExpr": "\"Freq='7.2775GHz' Phi='\" + datum.label + \"'\""}},
     "shape": {"field": "s", "type": "nominal", "scale": {"domain": ["0deg", "90deg"], "range": ["square", "circle"]}, "legend": {"title": null, "legendX": 96, "legendY": 23, "labelExpr": "\"Freq='7.2775GHz' Phi='\" + datum.label + \"'\""}}}},
   {"data": {"values": [{"t": "(9.f)"}]}, "transform": [{"calculate": "0.06", "as": "x"}, {"calculate": "-2.03", "as": "y"}], "mark": {"type": "text", "font": "Liberation Serif", "fontSize": 23, "color": "#000"}, "encoding": {"text": {"field": "t"}}}
  ]}
 ], "spacing": 36, "bounds": "flush", "resolve": {"scale": {"color": "independent", "shape": "independent"}, "legend": {"color": "independent", "shape": "independent"}}},
{"hconcat": [
 {"width": 187, "height": 237, "data": {"name": "g"},
  "transform": [{"calculate": "datum.r*sin(datum.a*PI/180)", "as": "x"}, {"calculate": "datum.r*cos(datum.a*PI/180)", "as": "y"}],
  "encoding": {"x": {"field": "x", "type": "quantitative", "scale": {"domain": [-1.172, 1.75], "nice": false, "zero": false}, "axis": null},
    "y": {"field": "y", "type": "quantitative", "scale": {"domain": [-1.875, 1.828], "nice": false, "zero": false},
      "axis": {"title": null, "values": [-1,-0.9286,-0.8571,-0.7857,-0.7143,-0.6429,-0.5714,-0.5,-0.4286,-0.3571,-0.2857,-0.2143,-0.1429,-0.0714,0,0.0714,0.1429,0.2143,0.2857,0.3571,0.4286,0.5,0.5714,0.6429,0.7143,0.7857,0.8571,0.9286,1], "labelExpr": "format(-18+28*abs(datum.value),'d')", "labelFontSize": 3.8}}},
  "layer": [
   {"data": {"name": "rings"}, "transform": [{"calculate": "0", "as": "x"}, {"calculate": "0", "as": "y"}], "mark": {"type": "point", "shape": "circle", "filled": false, "stroke": "#999", "strokeWidth": 0.7, "strokeDash": [1, 3], "opacity": 1}, "encoding": {"size": {"field": "r", "type": "quantitative", "scale": {"type": "pow", "exponent": 2, "domain": [0, 1], "range": [0, 12868]}, "legend": null}}},
   {"data": {"values": [{"r": 1}]}, "transform": [{"calculate": "0", "as": "x"}, {"calculate": "0", "as": "y"}], "mark": {"type": "point", "shape": "circle", "filled": false, "stroke": "#999", "strokeWidth": 0.9, "size": 12868, "opacity": 1}},
   {"data": {"name": "angles"}, "transform": [{"calculate": "0", "as": "x"}, {"calculate": "0", "as": "y"}, {"calculate": "sin(datum.a*PI/180)", "as": "x2"}, {"calculate": "cos(datum.a*PI/180)", "as": "y2"}], "mark": {"type": "rule", "stroke": "#999", "strokeWidth": 0.7, "strokeDash": [1, 3]}, "encoding": {"x2": {"field": "x2"}, "y2": {"field": "y2"}}},
   {"data": {"name": "angles"}, "transform": [{"calculate": "1.1*sin(datum.a*PI/180)", "as": "x"}, {"calculate": "1.1*cos(datum.a*PI/180)", "as": "y"}], "mark": {"type": "text", "fontSize": 5, "color": "#777", "font": "Liberation Sans"}, "encoding": {"text": {"field": "t"}}},
   {"data": {"values": [{"lo": -1, "hi": 1}]}, "transform": [{"calculate": "-1.172", "as": "x"}, {"calculate": "datum.lo", "as": "y"}], "mark": {"type": "rule", "stroke": "#888", "strokeWidth": 0.7}, "encoding": {"y2": {"field": "hi"}}},
   {"mark": {"type": "line", "strokeWidth": 0.6, "interpolate": "linear-closed"}, "encoding": {"stroke": {"field": "s", "type": "nominal", "scale": {"domain": ["0deg", "90deg"], "range": ["#333", "#888"]}, "legend": null}, "order": {"field": "a", "type": "quantitative"}}},
   {"mark": {"type": "point", "filled": true, "size": 10, "opacity": 1}, "encoding": {
     "color": {"field": "s", "type": "nominal", "scale": {"domain": ["0deg", "90deg"], "range": ["#000000", "#e8000b"]}, "legend": {"title": null, "legendX": 105, "legendY": 52, "labelExpr": "\"Freq='8.11GHz' Phi='\" + datum.label + \"'\""}},
     "shape": {"field": "s", "type": "nominal", "scale": {"domain": ["0deg", "90deg"], "range": ["square", "circle"]}, "legend": {"title": null, "legendX": 105, "legendY": 52, "labelExpr": "\"Freq='8.11GHz' Phi='\" + datum.label + \"'\""}}}},
   {"data": {"values": [{"t": "(9.g)"}]}, "transform": [{"calculate": "0.06", "as": "x"}, {"calculate": "-1.55", "as": "y"}], "mark": {"type": "text", "font": "Liberation Serif", "fontSize": 23, "color": "#000"}, "encoding": {"text": {"field": "t"}}}
  ]},
 {"width": 178, "height": 237, "data": {"name": "h"},
  "transform": [{"calculate": "datum.r*sin(datum.a*PI/180)", "as": "x"}, {"calculate": "datum.r*cos(datum.a*PI/180)", "as": "y"}],
  "encoding": {"x": {"field": "x", "type": "quantitative", "scale": {"domain": [-1.203, 1.578], "nice": false, "zero": false}, "axis": null},
    "y": {"field": "y", "type": "quantitative", "scale": {"domain": [-1.875, 1.828], "nice": false, "zero": false},
      "axis": {"title": null, "values": [-1,-0.9286,-0.8571,-0.7857,-0.7143,-0.6429,-0.5714,-0.5,-0.4286,-0.3571,-0.2857,-0.2143,-0.1429,-0.0714,0,0.0714,0.1429,0.2143,0.2857,0.3571,0.4286,0.5,0.5714,0.6429,0.7143,0.7857,0.8571,0.9286,1], "labelExpr": "format(-18+28*abs(datum.value),'d')", "labelFontSize": 3.8}}},
  "layer": [
   {"data": {"name": "rings"}, "transform": [{"calculate": "0", "as": "x"}, {"calculate": "0", "as": "y"}], "mark": {"type": "point", "shape": "circle", "filled": false, "stroke": "#999", "strokeWidth": 0.7, "strokeDash": [1, 3], "opacity": 1}, "encoding": {"size": {"field": "r", "type": "quantitative", "scale": {"type": "pow", "exponent": 2, "domain": [0, 1], "range": [0, 12868]}, "legend": null}}},
   {"data": {"values": [{"r": 1}]}, "transform": [{"calculate": "0", "as": "x"}, {"calculate": "0", "as": "y"}], "mark": {"type": "point", "shape": "circle", "filled": false, "stroke": "#999", "strokeWidth": 0.9, "size": 12868, "opacity": 1}},
   {"data": {"name": "angles"}, "transform": [{"calculate": "0", "as": "x"}, {"calculate": "0", "as": "y"}, {"calculate": "sin(datum.a*PI/180)", "as": "x2"}, {"calculate": "cos(datum.a*PI/180)", "as": "y2"}], "mark": {"type": "rule", "stroke": "#999", "strokeWidth": 0.7, "strokeDash": [1, 3]}, "encoding": {"x2": {"field": "x2"}, "y2": {"field": "y2"}}},
   {"data": {"name": "angles"}, "transform": [{"calculate": "1.1*sin(datum.a*PI/180)", "as": "x"}, {"calculate": "1.1*cos(datum.a*PI/180)", "as": "y"}], "mark": {"type": "text", "fontSize": 5, "color": "#777", "font": "Liberation Sans"}, "encoding": {"text": {"field": "t"}}},
   {"data": {"values": [{"lo": -1, "hi": 1}]}, "transform": [{"calculate": "-1.203", "as": "x"}, {"calculate": "datum.lo", "as": "y"}], "mark": {"type": "rule", "stroke": "#888", "strokeWidth": 0.7}, "encoding": {"y2": {"field": "hi"}}},
   {"mark": {"type": "line", "strokeWidth": 0.6, "interpolate": "linear-closed"}, "encoding": {"stroke": {"field": "s", "type": "nominal", "scale": {"domain": ["0deg", "90deg"], "range": ["#333", "#888"]}, "legend": null}, "order": {"field": "a", "type": "quantitative"}}},
   {"mark": {"type": "point", "filled": true, "size": 10, "opacity": 1}, "encoding": {
     "color": {"field": "s", "type": "nominal", "scale": {"domain": ["0deg", "90deg"], "range": ["#000000", "#e8000b"]}, "legend": {"title": null, "legendX": 103, "legendY": 51, "labelExpr": "\"Freq='9.73GHz' Phi='\" + datum.label + \"'\""}},
     "shape": {"field": "s", "type": "nominal", "scale": {"domain": ["0deg", "90deg"], "range": ["square", "circle"]}, "legend": {"title": null, "legendX": 103, "legendY": 51, "labelExpr": "\"Freq='9.73GHz' Phi='\" + datum.label + \"'\""}}}},
   {"data": {"values": [{"t": "(9.h)"}]}, "transform": [{"calculate": "0.34", "as": "x"}, {"calculate": "-1.55", "as": "y"}], "mark": {"type": "text", "font": "Liberation Serif", "fontSize": 23, "color": "#000"}, "encoding": {"text": {"field": "t"}}}
  ]}
 ], "spacing": 36, "bounds": "flush", "resolve": {"scale": {"color": "independent", "shape": "independent"}, "legend": {"color": "independent", "shape": "independent"}}}
]
}
